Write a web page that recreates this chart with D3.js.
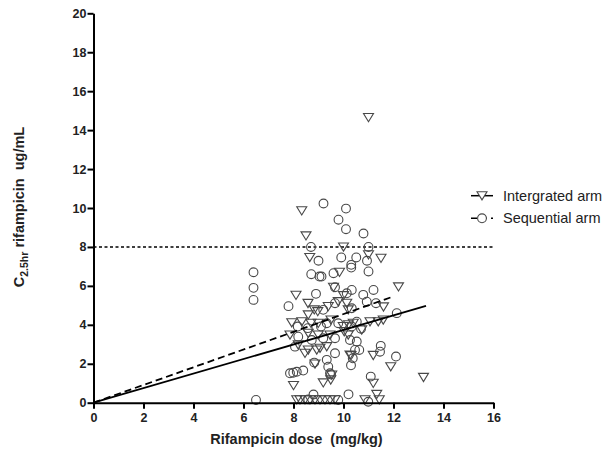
<!DOCTYPE html>
<html>
<head>
<meta charset="utf-8">
<script src="https://cdn.jsdelivr.net/npm/d3@7"></script>
<style>
  body { margin: 0; background: #fff; }
  svg { font-family: "Liberation Sans", Arial, sans-serif; }
  text { white-space: pre; }
</style>
</head>
<body>
<svg></svg>
<script>
// chart data
const integratedDose = [13.2, 11.0, 8.33, 8.5, 10.0, 11.5, 8.65, 11.0, 9.84, 12.2, 8.1, 9.6, 10.0, 8.58, 11.6,
  8.83, 8.97, 9.39, 9.79, 10.13, 10.19, 7.93, 8.33, 8.59, 8.7, 8.99, 9.5, 9.99, 10.2, 7.86, 8.59, 8.99, 9.46,
  10.03, 10.19, 8.19, 8.46, 8.59, 8.93, 9.06, 9.33, 8.86, 9.53, 10.26, 10.3, 11.19, 11.89, 11.19, 11.33, 8.0,
  9.19, 9.49, 11.06, 11.39, 11.59, 10.39, 10.73,
  8.13, 8.26, 8.46, 8.66, 8.86, 9.06, 9.26, 9.46, 9.66, 10.86, 11.43];
const integratedConc = [1.3, 14.65, 9.86, 8.57, 8.0, 7.42, 7.46, 7.6, 6.7, 5.95, 5.52, 5.93, 5.5, 5.1, 4.92,
  4.77, 4.68, 4.94, 5.19, 5.11, 4.77, 4.11, 4.16, 4.51, 4.08, 4.08, 4.25, 3.91, 4.0, 3.48, 3.57, 3.48, 3.48,
  3.65, 3.48, 2.97, 2.54, 2.71, 2.71, 2.8, 2.88, 1.99, 1.42, 2.45, 2.42, 2.43, 1.85, 1.0, 0.43, 0.88,
  1.02, 1.17, 4.16, 4.16, 4.25, 4.08, 3.74,
  0.15, 0.15, 0.15, 0.15, 0.15, 0.15, 0.15, 0.15, 0.15, 0.15, 0.15];

const sequentialDose = [9.2, 10.1, 9.8, 10.1, 10.8, 8.7, 11.0, 9.0, 9.91, 10.31, 10.31, 10.51, 10.94, 8.71,
  9.04, 9.12, 9.6, 11.0, 6.4, 6.4, 6.4, 8.9, 7.8, 9.66, 10.13, 10.33, 10.79, 11.2, 10.93, 11.3, 10.33, 12.13,
  9.19, 9.66, 10.53, 8.17, 8.57, 9.1, 9.33, 9.79, 10.33, 10.7, 8.19, 8.73, 9.19, 9.66, 10.26, 8.06, 10.53,
  10.63, 10.46, 10.37, 10.3, 11.49, 11.46, 12.1, 7.86, 7.99, 8.13, 8.39, 8.83, 9.33, 9.39, 9.46, 9.66, 11.09,
  8.8, 10.2, 6.5, 8.59, 9.79, 10.99, 9.5];
const sequentialConc = [10.23, 9.97, 9.4, 8.91, 8.69, 8.0, 8.0, 7.29, 7.46, 7.08, 6.94, 7.46, 7.29, 6.6,
  6.48, 6.48, 6.65, 6.74, 6.7, 5.9, 5.28, 5.59, 4.96, 5.93, 5.62, 5.79, 5.54, 5.79, 5.19, 5.11, 4.85, 4.6,
  4.77, 5.11, 4.16, 3.91, 3.83, 3.91, 4.08, 4.08, 3.91, 3.8, 3.39, 3.22, 3.31, 3.31, 3.22, 2.88, 3.14,
  2.71, 2.71, 2.28, 1.92, 2.92, 2.62, 2.37, 1.51, 1.54, 1.59, 1.65, 2.06, 2.2, 1.85, 1.51, 2.54, 1.34,
  0.42, 0.43, 0.14, 0.17, 0.14, 0.05, 1.45];

// regression lines through the origin
const fitNames = ["Intergrated arm", "Sequential arm"];
const fitSlopes = [0.374, 0.455];
const fitMaxDose = [13.3, 12.0];

const xTicks = [0, 2, 4, 6, 8, 10, 12, 14, 16];
const yTicks = [0, 2, 4, 6, 8, 10, 12, 14, 16, 18, 20];
const threshold = 8;

const width = 610;
const height = 451;
const plotLeft = 93.5, plotRight = 493.5, plotTop = 13.3, plotBottom = 402.7;

const xScale = d3.scaleLinear().domain([0, 16]).range([plotLeft, plotRight]);
const yScale = d3.scaleLinear().domain([0, 20]).range([plotBottom, plotTop]);

const svg = d3.select("svg")
  .attr("width", width)
  .attr("height", height);

const markColor = "#484848";
const triPath = "M-5,-4L5,-4L0,4.2Z";

// threshold line
svg.append("line")
  .attr("x1", xScale(0))
  .attr("x2", xScale(16))
  .attr("y1", yScale(threshold))
  .attr("y2", yScale(threshold))
  .attr("stroke", "#000")
  .attr("stroke-width", 1.5)
  .attr("stroke-dasharray", "3,2.5");

// points
svg.append("g")
  .selectAll("path")
  .data(integratedDose)
  .enter()
  .append("path")
    .attr("d", triPath)
    .attr("transform", (d, i) => `translate(${xScale(d)},${yScale(integratedConc[i])})`)
    .attr("fill", "none")
    .attr("stroke", markColor)
    .attr("stroke-width", 1.1);

svg.append("g")
  .selectAll("circle")
  .data(sequentialDose)
  .enter()
  .append("circle")
    .attr("cx", d => xScale(d))
    .attr("cy", (d, i) => yScale(sequentialConc[i]))
    .attr("r", 4.4)
    .attr("fill", "none")
    .attr("stroke", markColor)
    .attr("stroke-width", 1.1);

// fitted lines
const dashes = [null, "7,4"];
fitSlopes.forEach((s, i) => {
  svg.append("line")
    .attr("x1", xScale(0))
    .attr("y1", yScale(0))
    .attr("x2", xScale(fitMaxDose[i]))
    .attr("y2", yScale(s * fitMaxDose[i]))
    .attr("stroke", "#000")
    .attr("stroke-width", 1.8)
    .attr("stroke-dasharray", dashes[i]);
});

// axes
const xAxis = svg.append("g")
  .attr("transform", `translate(0, ${plotBottom})`)
  .call(d3.axisBottom(xScale).tickValues(xTicks).tickSize(6).tickSizeOuter(0).tickPadding(4));

const yAxis = svg.append("g")
  .attr("transform", `translate(${plotLeft}, 0)`)
  .call(d3.axisLeft(yScale).tickValues(yTicks).tickSize(6).tickSizeOuter(0).tickPadding(1));

[xAxis, yAxis].forEach(a => {
  a.select(".domain").attr("stroke-width", 2);
  a.selectAll(".tick line").attr("stroke-width", 2);
  a.selectAll(".tick text")
    .style("font-family", "'Liberation Sans', Arial, sans-serif")
    .style("font-size", "12.5px")
    .style("font-weight", "bold")
    .attr("fill", "#222");
});

// axis titles
svg.append("text")
  .attr("x", 296.5)
  .attr("y", 443.5)
  .style("text-anchor", "middle")
  .style("font-size", "14.5px")
  .style("font-weight", "bold")
  .attr("fill", "#222")
  .text("Rifampicin dose  (mg/kg)");

const yTitle = svg.append("text")
  .attr("transform", "translate(23.5, 207) rotate(-90)")
  .style("text-anchor", "middle")
  .style("font-size", "14.5px")
  .style("font-weight", "bold")
  .attr("fill", "#222");
yTitle.append("tspan").text("C");
yTitle.append("tspan").attr("dy", 4).style("font-size", "10.5px").text("2.5hr");
yTitle.append("tspan").attr("dy", -4).text(" rifampicin  ug/mL");

// legend
const legend = svg.append("g");
fitNames.forEach((name, i) => {
  const y = 195.7 + i * 22.6;
  legend.append("line")
    .attr("x1", 471)
    .attr("x2", 493)
    .attr("y1", y)
    .attr("y2", y)
    .attr("stroke", "#000")
    .attr("stroke-width", 1.5)
    .attr("stroke-dasharray", dashes[i] ? "6,4" : null);
  if (i === 0) {
    legend.append("path")
      .attr("d", triPath)
      .attr("transform", `translate(482, ${y})`)
      .attr("fill", "#fff")
      .attr("stroke", markColor)
      .attr("stroke-width", 1.1);
  } else {
    legend.append("circle")
      .attr("cx", 482)
      .attr("cy", y)
      .attr("r", 4.4)
      .attr("fill", "#fff")
      .attr("stroke", markColor)
      .attr("stroke-width", 1.1);
  }
  legend.append("text")
    .attr("x", 503)
    .attr("y", y + 4.8)
    .style("font-size", "14.5px")
    .attr("fill", "#222")
    .text(name);
});
</script>
</body>
</html>
